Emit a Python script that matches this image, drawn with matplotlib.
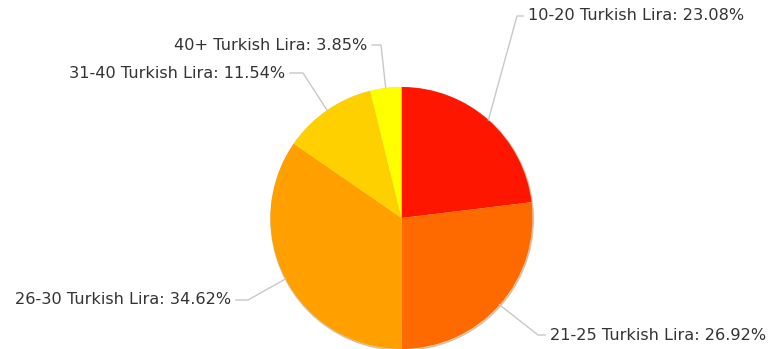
import matplotlib.pyplot as plt
import matplotlib.patches as mpatches
import numpy as np

# data
labels = ['10-20 Turkish Lira', '21-25 Turkish Lira', '26-30 Turkish Lira',
          '31-40 Turkish Lira', '40+ Turkish Lira']
shares = [23.08, 26.92, 34.62, 11.54, 3.85]
colors = ['#FF1600', '#FF6A00', '#FFA000', '#FFD000', '#FFFF00']

W, H = 768, 349
cx, cy, r = 401.5, H - 218, 131

# label placement (pixel coords, y from top): elbow, line end
elbows = [(517, 16), (538, 335), (248, 300), (303, 73), (381, 45)]
ends = [(523, 16), (545, 335), (236, 300), (290, 73), (372, 45)]

fig = plt.figure(figsize=(W / 100, H / 100), dpi=100)
ax = fig.add_axes([0, 0, 1, 1])

# faint shadow behind the pie
shadow = mpatches.Circle((cx + 0.6, cy - 1.0), r + 0.4, color='#8a5a00', alpha=0.25, zorder=0)
ax.add_patch(shadow)

wedges, _ = ax.pie(shares, colors=colors, startangle=90, counterclock=False,
                   center=(cx, cy), radius=r, frame=True,
                   wedgeprops=dict(linewidth=0, zorder=1))
ax.set_xlim(0, W)
ax.set_ylim(0, H)
ax.set_aspect('equal')
ax.axis('off')

for w, lab, val, (ex, ey), (tx, ty) in zip(wedges, labels, shares, elbows, ends):
    ang = np.deg2rad((w.theta1 + w.theta2) / 2)
    px, py = cx + r * np.cos(ang), cy + r * np.sin(ang)
    ax.plot([px, ex, tx], [py, H - ey, H - ty], color='#c8c8c8', lw=1, zorder=2)
    right = tx > ex
    ax.text(tx + (5 if right else -5), H - ty, f'{lab}: {val:.2f}%',
            ha='left' if right else 'right', va='center',
            fontsize=11.6, color='#333333', family='DejaVu Sans')

fig.savefig('out.png', dpi=100)
